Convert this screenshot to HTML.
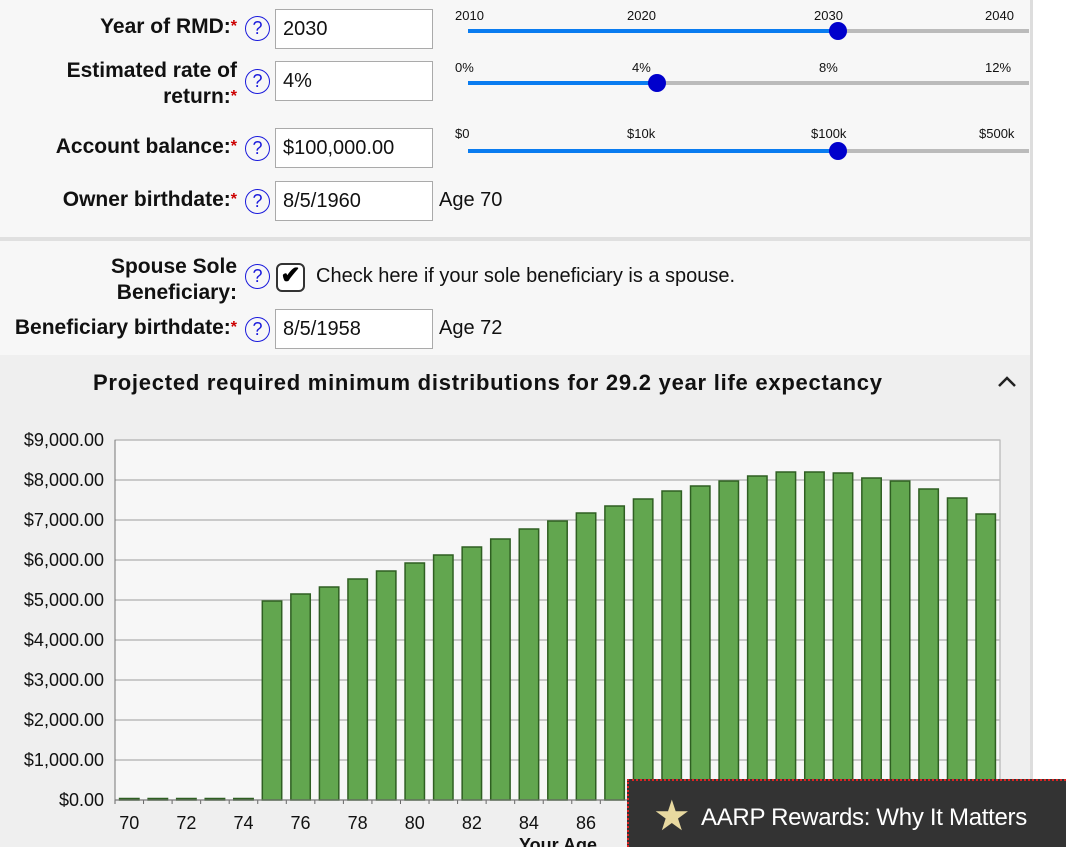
<!DOCTYPE html>
<html><head><meta charset="utf-8"><style>
*{box-sizing:border-box}
body{margin:0;width:1066px;height:847px;overflow:hidden;background:#fff;font-family:"Liberation Sans",Arial,sans-serif;position:relative}
.abs{position:absolute}
.form{left:0;top:0;width:1030px;height:355px;background:#f7f7f7}
.lbl{position:absolute;right:829px;text-align:right;font-weight:bold;font-size:21px;color:#111;line-height:26px;white-space:nowrap}
.lbl .req{color:#c00;font-size:16px;vertical-align:top}
.help{position:absolute;left:245px;width:25px;height:25px;border:1.5px solid #1a1adc;border-radius:50%;color:#1a1adc;font-size:18px;text-align:center;line-height:22px}
.inp{position:absolute;left:275px;width:158px;height:40px;border:1px solid #aaa;background:#fff;font-size:20px;padding:8px 7px;color:#111}
.age{position:absolute;left:439px;font-size:20px;color:#111}
.tick{position:absolute;font-size:13px;color:#111}
.track{position:absolute;left:468px;width:561px;height:4px;background:#bbb}
.fill{position:absolute;left:0;top:0;height:4px;background:#0a7cf0}
.thumb{position:absolute;width:18px;height:18px;border-radius:50%;background:#0000cc;top:-7px}
</style></head><body>
<div class="abs form"></div>
<div class="abs" style="left:1030px;top:0;width:3px;height:780px;background:#ddd"></div>

<div class="lbl" style="top:14px">Year of RMD:<span class="req">*</span></div>
<div class="help" style="top:16px">?</div>
<div class="inp" style="top:9px">2030</div>

<div class="lbl" style="top:58px">Estimated rate of<br>return:<span class="req">*</span></div>
<div class="help" style="top:69px">?</div>
<div class="inp" style="top:61px">4%</div>

<div class="lbl" style="top:134px">Account balance:<span class="req">*</span></div>
<div class="help" style="top:136px">?</div>
<div class="inp" style="top:128px">$100,000.00</div>

<div class="lbl" style="top:187px">Owner birthdate:<span class="req">*</span></div>
<div class="help" style="top:189px">?</div>
<div class="inp" style="top:181px">8/5/1960</div>
<div class="age" style="top:189px">Age 70</div>

<div class="abs" style="left:0;top:237px;width:1030px;height:4px;background:#e0e0e0"></div>

<div class="lbl" style="top:254px">Spouse Sole<br>Beneficiary:</div>
<div class="help" style="top:264px">?</div>
<div class="abs" style="left:276px;top:263px;width:29px;height:29px;border:2.5px solid #333;border-radius:6px;background:#fff;font-size:24px;line-height:22px;text-align:center;font-weight:bold">✔</div>
<div class="abs" style="left:316px;top:265px;font-size:20px;color:#111">Check here if your sole beneficiary is a spouse.</div>

<div class="lbl" style="top:315px">Beneficiary birthdate:<span class="req">*</span></div>
<div class="help" style="top:317px">?</div>
<div class="inp" style="top:309px">8/5/1958</div>
<div class="age" style="top:317px">Age 72</div>

<!-- sliders -->
<div class="tick" style="left:455px;top:8px">2010</div><div class="tick" style="left:627px;top:8px">2020</div><div class="tick" style="left:814px;top:8px">2030</div><div class="tick" style="left:985px;top:8px">2040</div>
<div class="track" style="top:29px"><div class="fill" style="width:371px"></div><div class="thumb" style="left:361px"></div></div>
<div class="tick" style="left:455px;top:60px">0%</div><div class="tick" style="left:632px;top:60px">4%</div><div class="tick" style="left:819px;top:60px">8%</div><div class="tick" style="left:985px;top:60px">12%</div>
<div class="track" style="top:81px"><div class="fill" style="width:190px"></div><div class="thumb" style="left:180px"></div></div>
<div class="tick" style="left:455px;top:126px">$0</div><div class="tick" style="left:627px;top:126px">$10k</div><div class="tick" style="left:811px;top:126px">$100k</div><div class="tick" style="left:979px;top:126px">$500k</div>
<div class="track" style="top:149px"><div class="fill" style="width:371px"></div><div class="thumb" style="left:361px"></div></div>

<!-- chart section -->
<div class="abs" style="left:0;top:355px;width:1030px;height:492px;background:#efefef"></div>
<div class="abs" style="left:93px;top:370px;font-size:22px;letter-spacing:0.75px;font-weight:bold;color:#111;white-space:nowrap">Projected required minimum distributions for 29.2 year life expectancy</div>
<svg class="abs" style="left:996px;top:374px" width="22" height="16"><polyline points="3,12 11,4 19,12" fill="none" stroke="#222" stroke-width="2.5"/></svg>

<svg id="chart" class="abs" style="left:0;top:355px" width="1030" height="492"></svg>

<div class="abs" style="left:627px;top:779px;width:439px;height:68px;background:#333;border-top:2px dotted #d22;border-left:2px dotted #d22">
<div class="abs" style="left:24px;top:10px;font-size:42px;color:#e8d9a0">★</div>
<div class="abs" style="left:72px;top:23px;font-size:24px;color:#fff;letter-spacing:-0.3px">AARP Rewards: Why It Matters</div>
</div>

<script>
const ages=[70,71,72,73,74,75,76,77,78,79,80,81,82,83,84,85,86,87,88,89,90,91,92,93,94,95,96,97,98,99,100];
const rmd=[0,0,0,0,0,4975,5150,5325,5525,5725,5925,6125,6325,6525,6775,6975,7175,7350,7525,7725,7850,7975,8100,8200,8200,8175,8050,7975,7775,7550,7150];
const yTicks=[0,1000,2000,3000,4000,5000,6000,7000,8000,9000];
const xLabels=[70,72,74,76,78,80,82,84,86];
const svg=document.getElementById('chart');
const NS='http://www.w3.org/2000/svg';
const L=115,R=1000,T=85,B=445,YMAX=9000;
const bw=(R-L)/ages.length;
const y=v=>B-(v/YMAX)*(B-T);
const x=a=>L+(a-ages[0]+0.5)*bw;
function mk(t,attrs){const e=document.createElementNS(NS,t);for(const k in attrs)e.setAttribute(k,attrs[k]);svg.appendChild(e);return e;}
let bg=mk('rect',{x:L,y:T,width:R-L,height:B-T,fill:'#f7f7f7',stroke:'#aaa'});


yTicks.forEach(v=>{
  let g=mk('line',{x1:L,x2:R,y1:y(v),y2:y(v),stroke:'#bbb','stroke-width':1.5});
  
  
  let t=mk('text',{x:L-11,y:y(v)+6,'text-anchor':'end','font-size':18,fill:'#111','font-family':'Liberation Sans, sans-serif'});
  t.textContent='$'+v.toLocaleString('en-US')+'.00';
  
  
});
ages.forEach((a,i)=>{
  const v=rmd[i],h=Math.max(B-y(v),1.5);
  let b=mk('rect',{x:x(a)-bw*0.34,y:B-h,width:bw*0.68,height:h,fill:'#62a64f',stroke:'#2f5f22','stroke-width':1.5});
  
  
  let tk=mk('line',{x1:L+(i)*bw,x2:L+i*bw,y1:B,y2:B+4,stroke:'#666'});
  
  
});
mk('line',{x1:L,x2:L,y1:T,y2:B,stroke:'#777'});
mk('line',{x1:L,x2:R,y1:B,y2:B,stroke:'#777'});
xLabels.forEach(a=>{
  let t=mk('text',{x:x(a),y:B+29,'text-anchor':'middle','font-size':18,fill:'#111','font-family':'Liberation Sans, sans-serif'});
  t.textContent=a;
  
  
});
let xt=mk('text',{x:558,y:B+51,'text-anchor':'middle','font-size':18,'font-weight':'bold',fill:'#111','font-family':'Liberation Sans, sans-serif'});
xt.textContent='Your Age';


</script>
</body></html>
